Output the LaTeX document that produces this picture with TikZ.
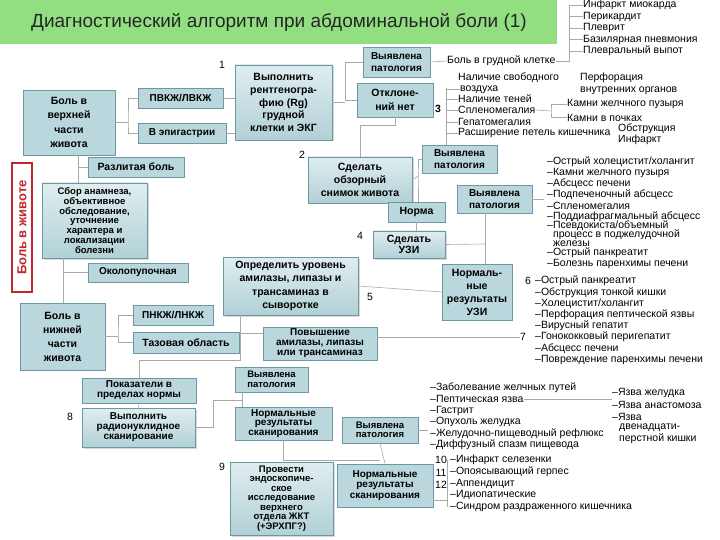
\documentclass[tikz,border=0pt]{standalone}
\usepackage{fontspec}
\setmainfont{Liberation Sans}
\usepackage{tikz}
\usetikzlibrary{calc,shadows}

\definecolor{boxfill}{HTML}{B9D7DC}
\definecolor{boxline}{HTML}{6C98A2}
\definecolor{linegray}{HTML}{A9A9A9}
\definecolor{titlegreen}{HTML}{92DF82}
\definecolor{zhivred}{HTML}{C1272D}

\tikzset{
  box/.style={draw=boxline, line width=0.8pt, fill=boxfill, align=center, inner sep=0pt, font=\bfseries\fontsize{10}{11}\selectfont},
  bevel/.style={box, top color=boxfill!45!white, bottom color=boxfill!90!boxline, drop shadow={opacity=0.3, shadow xshift=1.5pt, shadow yshift=-1.5pt}},
  link/.style={draw=linegray, line width=0.6pt},
  item/.style={anchor=west, inner sep=0pt, font=\fontsize{10.5}{11}\selectfont},
  num/.style={inner sep=0pt, font=\fontsize{10.5}{11}\selectfont},
}

\begin{document}
\begin{tikzpicture}[x=1pt, y=-1pt]
    \useasboundingbox (0,0) rectangle (720,540);
    \fill[white] (0,0) rectangle (720,540);
    \fill[titlegreen] (0,0) rectangle (557,44);
    \node[anchor=west, inner sep=0pt, text=black!85, font=\fontsize{19}{22}\selectfont] (title) at (31,22) {Диагностический алгоритм при абдоминальной боли (1)};

    \node[draw=zhivred, line width=1.5pt, text=zhivred, rotate=90, minimum width=129pt, minimum height=20pt, inner sep=0pt, font=\bfseries\fontsize{13}{14}\selectfont] (zhiv) at (22,227.5) {Боль в животе};

    \node[box, minimum width=92pt, minimum height=65pt, font=\bfseries\fontsize{10.5}{14.5}\selectfont] (ub) at (69,122.5) {Боль в\\верхней\\части\\живота};
    \node[box, minimum width=85pt, minimum height=20pt] (pvkzh) at (180.5,98) {ПВКЖ/ЛВКЖ};
    \node[box, minimum width=88pt, minimum height=20pt] (epig) at (182,133) {В эпигастрии};
    \node[bevel, minimum width=97pt, minimum height=75pt, font=\bfseries\fontsize{10.5}{12.8}\selectfont] (rg) at (283.5,102.5) {Выполнить\\рентгеногра-\\фию (Rg)\\грудной\\клетки и ЭКГ};
    \node[box, minimum width=67pt, minimum height=30pt, font=\bfseries\fontsize{10}{12.5}\selectfont] (vyp1) at (396.5,62) {Выявлена\\патология};
    \node[box, minimum width=76pt, minimum height=34pt, font=\bfseries\fontsize{10.5}{13.5}\selectfont] (otkl) at (395,100) {Отклоне-\\ний нет};
    \node[box, minimum width=96pt, minimum height=20pt, font=\bfseries\fontsize{10.5}{11}\selectfont] (razl) at (136,167) {Разлитая боль};
    \node[bevel, minimum width=105pt, minimum height=75pt, font=\bfseries\fontsize{9.5}{9.8}\selectfont] (sbor) at (94.5,220.5) {Сбор анамнеза,\\объективное\\обследование,\\уточнение\\характера и\\локализации\\болезни};
    \node[box, minimum width=100pt, minimum height=19pt] (okolo) at (138,272.5) {Околопупочная};
    \node[box, minimum width=85pt, minimum height=67pt, font=\bfseries\fontsize{10.5}{14}\selectfont] (lb) at (62.5,336.5) {Боль в\\нижней\\части\\живота};
    \node[box, minimum width=80pt, minimum height=20pt] (pnkzh) at (173,315) {ПНКЖ/ЛНКЖ};
    \node[box, minimum width=106pt, minimum height=21pt, font=\bfseries\fontsize{10.5}{11}\selectfont] (taz) at (186,342.5) {Тазовая область};
    \node[bevel, minimum width=135pt, minimum height=58pt, font=\bfseries\fontsize{10.5}{13.5}\selectfont] (amil) at (290.5,286) {Определить уровень\\амилазы, липазы и\\трансаминаз в\\сыворотке};
    \node[box, minimum width=114pt, minimum height=33pt, font=\bfseries\fontsize{10}{10}\selectfont] (povysh) at (320,343.5) {Повышение\\амилазы, липазы\\или трансаминаз};
    \node[box, minimum width=73pt, minimum height=25pt, font=\bfseries\fontsize{9.5}{9.5}\selectfont] (vyp3) at (271.5,379.5) {Выявлена\\патология};
    \node[bevel, minimum width=104pt, minimum height=46pt, font=\bfseries\fontsize{10.5}{13}\selectfont] (obz) at (360,180) {Сделать\\обзорный\\снимок живота};
    \node[box, minimum width=75pt, minimum height=28pt, font=\bfseries\fontsize{10}{12.5}\selectfont] (vyp2) at (459.5,159) {Выявлена\\патология};
    \node[box, minimum width=57pt, minimum height=20pt, font=\bfseries\fontsize{10.5}{11}\selectfont] (norma) at (416.5,212) {Норма};
    \node[box, minimum width=75pt, minimum height=28pt, font=\bfseries\fontsize{10}{12.5}\selectfont] (vyp4) at (494.5,199) {Выявлена\\патология};
    \node[bevel, minimum width=72pt, minimum height=27pt, font=\bfseries\fontsize{10.5}{11.5}\selectfont] (uzi) at (409,244.5) {Сделать\\УЗИ};
    \node[box, minimum width=70pt, minimum height=56pt, font=\bfseries\fontsize{10.5}{13}\selectfont] (normuzi) at (477,292) {Нормаль-\\ные\\результаты\\УЗИ};
    \node[box, minimum width=114pt, minimum height=25pt, font=\bfseries\fontsize{10}{10}\selectfont] (pokaz) at (139,390.5) {Показатели в\\пределах нормы};
    \node[bevel, minimum width=113pt, minimum height=39pt, font=\bfseries\fontsize{10}{10}\selectfont] (radio) at (138.5,427.5) {Выполнить\\радионуклидное\\сканирование};
    \node[box, minimum width=97pt, minimum height=33pt, font=\bfseries\fontsize{10}{9.8}\selectfont] (normscan1) at (283.5,423.5) {Нормальные\\результаты\\сканирования};
    \node[bevel, minimum width=103pt, minimum height=73pt, font=\bfseries\fontsize{9.5}{9.5}\selectfont] (endo) at (281.5,498.5) {Провести\\эндоскопиче-\\ское\\исследование\\верхнего\\отдела ЖКТ\\(+ЭРХПГ?)};
    \node[box, minimum width=76pt, minimum height=26pt, font=\bfseries\fontsize{9.5}{9.5}\selectfont] (vyp5) at (380,430) {Выявлена\\патология};
    \node[box, minimum width=96pt, minimum height=43pt, font=\bfseries\fontsize{10}{10.5}\selectfont] (normscan2) at (385,485.5) {Нормальные\\результаты\\сканирования};

    \foreach \n/\x/\y in {1/222/65, 2/302/155, 4/360/236, 5/370/297, 6/528/281, 7/523/337, 8/70/417, 9/222/467}
        \node[num] (n\n) at (\x,\y) {\n};
    \node[num, font=\bfseries\fontsize{10.5}{11}\selectfont] (n3) at (438,109) {3};
    \foreach \n/\y in {10/460, 11/472.5, 12/485}
        \node[num] (n\n) at (441,\y) {\n};

    \node[item] (chest) at (447,61) {Боль в грудной клетке};
    \foreach \t [count=\i] in {Инфаркт миокарда, Перикардит, Плеврит, Базилярная пневмония, Плевральный выпот}
        \node[item] (ch\i) at (583,{5+11.5*(\i-1)}) {\t};

    \node[item] (l0) at (458,78) {Наличие свободного};
    \node[item] (l1) at (460,89.5) {воздуха};
    \node[item] (l2) at (458,99) {Наличие теней};
    \node[item] (l3) at (458,110) {Спленомегалия};
    \node[item] (l4) at (458,122) {Гепатомегалия};
    \node[item] (l5) at (458,133) {Расширение петель кишечника};
    \node[item, align=left, font=\fontsize{10.5}{12}\selectfont] (perf) at (580,84) {Перфорация\\внутренних органов};
    \node[item] (k1) at (567,104) {Камни желчного пузыря};
    \node[item] (k2) at (567,117.5) {Камни в почках};
    \node[item, align=left, font=\fontsize{10.5}{11}\selectfont] (obstr) at (618,134) {Обструкция\\Инфаркт};

    \foreach \t [count=\i] in {Острый холецистит/холангит, Камни желчного пузыря, Абсцесс печени, Подпеченочный абсцесс, Спленомегалия, Поддиафрагмальный абсцесс}
        \node[item] (u\i) at (547,{151+11*\i}) {–\t};
    \node[item] (u7) at (547,226) {–Псевдокиста/объемный};
    \node[item] (u7b) at (553,235) {процесс в поджелудочной};
    \node[item] (u7c) at (553,244) {железы};
    \node[item] (u8) at (547,253) {–Острый панкреатит};
    \node[item] (u9) at (547,263.5) {–Болезнь паренхимы печени};

    \foreach \t [count=\i] in {Острый панкреатит, Обструкция тонкой кишки, Холецистит/холангит, Перфорация пептической язвы, Вирусный гепатит}
        \node[item] (w\i) at (535,{281+11.25*(\i-1)}) {–\t};
    \foreach \t [count=\i] in {Гонококковый перигепатит, Абсцесс печени, Повреждение паренхимы печени}
        \node[item] (v\i) at (535,{337+11.5*(\i-1)}) {–\t};

    \foreach \t [count=\i] in {Заболевание желчных путей, Пептическая язва, Гастрит, Опухоль желудка, Желудочно-пищеводный рефлюкс, Диффузный спазм пищевода}
        \node[item] (g\i) at (430,{388+11.4*(\i-1)}) {–\t};
    \node[item] (ya1) at (612,393) {–Язва желудка};
    \node[item] (ya2) at (612,405) {–Язва анастомоза};
    \node[item] (ya3) at (612,417) {–Язва};
    \node[item, align=left, font=\fontsize{10.5}{12}\selectfont] (ya3b) at (619,434) {двенадцати-\\перстной кишки};

    \foreach \t [count=\i] in {Инфаркт селезенки, Опоясывающий герпес, Аппендицит, Идиопатические, Синдром раздраженного кишечника}
        \node[item] (h\i) at (450,{460+11.8*(\i-1)}) {–\t};

    \coordinate (jA) at (128,122.5);
    \coordinate (jB) at (345,100);
    \coordinate (jC) at (569,61);
    \coordinate (jD) at (446,88);
    \coordinate (jE) at (551,111);
    \coordinate (jF) at (418,176);
    \coordinate (jG) at (485,244);
    \coordinate (jH) at (240,333);
    \coordinate (jI) at (240,360);
    \coordinate (jJ) at (242,400);
    \coordinate (jK) at (283.5,460);
    \coordinate (jL) at (447,500);
    \coordinate (jR) at (78,167);
    \coordinate (jS) at (63,272.5);
    \coordinate (jT) at (118,336.5);

    \draw[link] (ub.east) -- (jA);
    \draw[link] (pvkzh.west) -| (jA) |- (epig.west);
    \draw[link] (pvkzh.east) -- (pvkzh.east -| rg.west);
    \draw[link] (epig.east) -- (epig.east -| rg.west);
    \draw[link] (rg.east) -- (rg.east -| jB);
    \draw[link] (vyp1.west) -| (jB) |- (otkl.west);
    \draw[link] (vyp1.east) -- (chest.west);
    \draw[link] (chest.east) -- (jC) |- (ch1.west);
    \foreach \i in {2,...,5}
        \draw[link] (ch\i.west) -- (ch\i.west -| jC);
    \draw[link] (jD) -- (jD |- vyp2.north);
    \foreach \i in {1,...,5}
        \draw[link] (l\i.west) -- (l\i.west -| jD);
    \draw[link] (l3.east) -- (jE);
    \draw[link] (k1.west) -| (jE) |- (k2.west);
    \draw[link] (otkl.south) -- ++(0,8) -| (obz.north);
    \draw[link] (obz.east) -- (jF);
    \draw[link] (vyp2.west) -| (jF) -- (jF |- norma.north);
    \draw[link] (norma.south) -- (norma.south |- uzi.north);
    \draw[link] (uzi.east) -- (jG);
    \draw[link] (jG |- vyp4.south) -- (jG |- normuzi.north);
    \draw[link] (vyp4.east) -- ++(12,0);
    \draw[link] (amil.east) -- (normuzi.west);
    \draw[link] (povysh.east |- n7.west) -- (n7.west);
    \draw[link] (jH |- amil.south) -- (jI) -| (pokaz.north);
    \draw[link] (jH) -- (jH -| povysh.west);
    \draw[link] (pokaz.south) -- (radio.north);
    \draw[link] (radio.east) -| (213,400) -- (jJ);
    \draw[link] (jJ |- vyp3.south) -- (jJ |- normscan1.north);
    \draw[link] (normscan1.south) -- (jK) -- (jK -| vyp5.south);
    \draw[link] (vyp5.south) -- (normscan2.north);
    \draw[link] (vyp5.east) -- ++(10,0);
    \draw[link] (g2.east) -- (g2.east -| ya1.west);
    \draw[link] (normscan2.east |- jL) -- (jL);
    \draw[link] (jL |- h1.west) -- (jL |- h5.west);
    \draw[link] (ub.south -| jR) -- (sbor.north -| jR);
    \draw[link] (jR) -- (razl.west);
    \draw[link] (sbor.south -| jS) -- (lb.north -| jS);
    \draw[link] (jS) -- (okolo.west);
    \draw[link] (lb.east) -- (jT);
    \draw[link] (pnkzh.west) -| (jT) |- (taz.west);
\end{tikzpicture}
\end{document}
